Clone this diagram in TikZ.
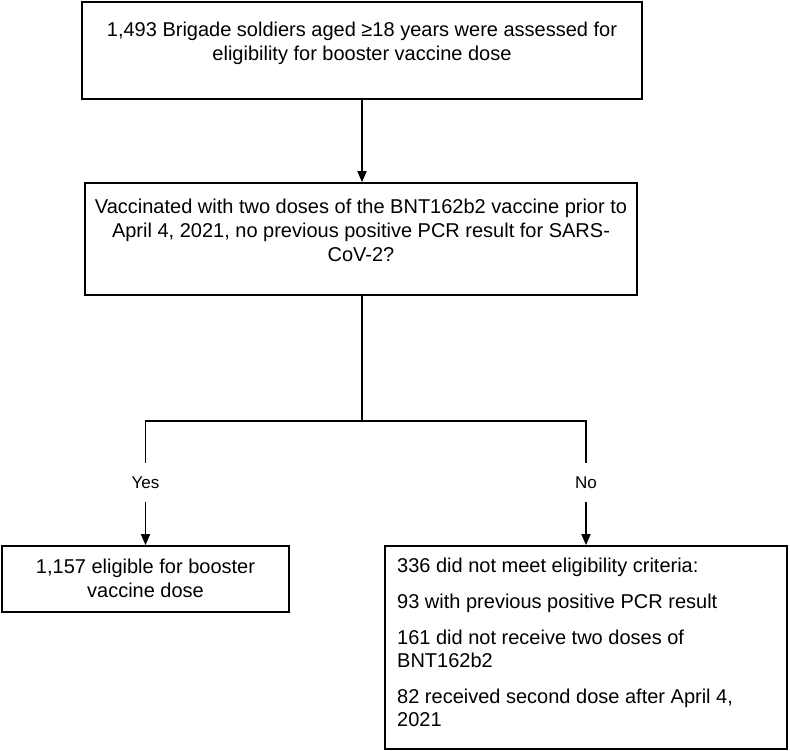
\documentclass[tikz,border=0pt]{standalone}
\usepackage{fontspec}
\setmainfont{Liberation Sans}
\usetikzlibrary{arrows.meta}
\begin{document}
\begin{tikzpicture}[x=1pt,y=-1pt,
  box/.style={draw, line width=1.7pt, inner sep=0pt},
  txt/.style={font=\fontsize{20}{24}\selectfont, align=center, inner sep=0pt},
  ltxt/.style={font=\fontsize{20}{23}\selectfont, align=left, inner sep=0pt},
  lbl/.style={font=\fontsize{17}{20}\selectfont, inner sep=0pt, minimum height=39pt},
  conn/.style={line width=1.7pt},
  arr/.style={conn, -{Triangle[length=11pt,width=9pt]}}]
\useasboundingbox (0,0) rectangle (790,751);
% boxes
\node[box, minimum width=560pt, minimum height=97pt] (b1) at (362,50.5) {};
\node[box, minimum width=552pt, minimum height=112pt] (b2) at (361,239) {};
\node[box, minimum width=287pt, minimum height=66pt] (b3) at (145.5,579) {};
\node[box, minimum width=402pt, minimum height=203pt] (b4) at (586,647.5) {};
% texts
\node[txt] (t1) at (362,43) {1,493 Brigade soldiers aged ≥18 years were assessed for\\eligibility for booster vaccine dose};
\node[txt] (t2) at (361,230) {Vaccinated with two doses of the BNT162b2 vaccine prior to\\April 4, 2021, no previous positive PCR result for SARS-\\CoV-2?};
\node[txt] (t3) at (145.5,578) {1,157 eligible for booster\\vaccine dose};
\node[ltxt, anchor=north west] (t4) at (397,558) {336 did not meet eligibility criteria:\\[13pt]
93 with previous positive PCR result\\[13pt]
161 did not receive two doses of\\BNT162b2\\[13pt]
82 received second dose after April 4,\\2021};
% labels
\node[lbl] (yes) at (145.5,482.5) {Yes};
\node[lbl] (no) at (586,482.5) {No};
% connectors
\coordinate (jn) at (362,421);
\draw[arr] (b1.south) -- (b1.south |- b2.north);
\draw[conn] (b2.south -| jn) -- (jn);
\draw[conn] (yes.north) |- (jn) -| (no.north);
\draw[arr] (yes.south) -- (b3.north);
\draw[arr] (no.south) -- (b4.north);
\end{tikzpicture}
\end{document}
